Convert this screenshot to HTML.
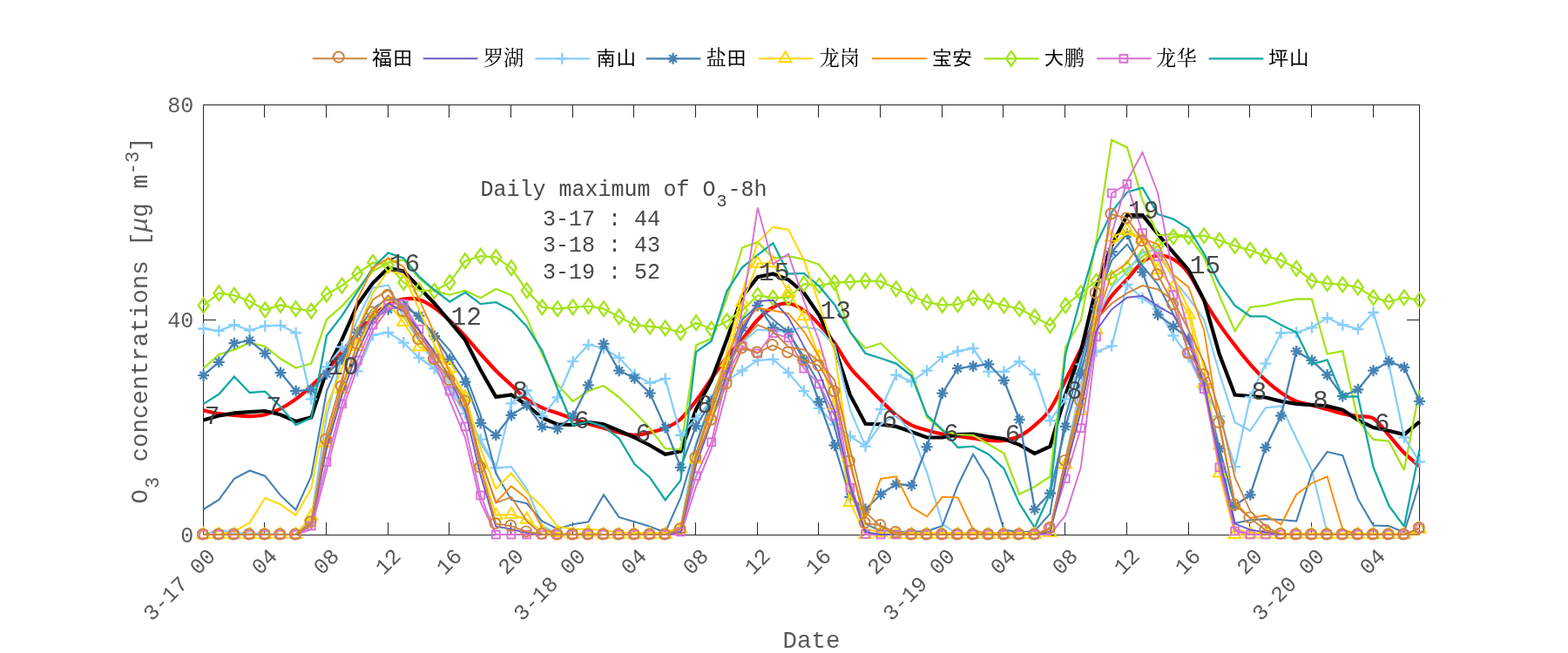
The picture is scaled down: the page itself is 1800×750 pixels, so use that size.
<!DOCTYPE html>
<html lang="zh"><head><meta charset="utf-8"><title>O3 concentrations</title>
<style>
html,body{margin:0;padding:0;background:#fff;overflow:hidden}
html{width:1800px;height:750px}
body{width:1800px;height:750px;position:relative;overflow:hidden;font-family:"Liberation Mono",monospace;color:#5a5a5a}
.t{position:absolute;white-space:pre;line-height:1}
.xt{position:absolute;white-space:pre;line-height:1;font-size:25px;transform-origin:100% 50%;transform:rotate(-45deg)}
.yt{position:absolute;white-space:pre;line-height:1;font-size:25px;text-align:right}
.an{font-size:25px;color:#484848}
.lg{position:absolute;white-space:pre;line-height:1;font-size:23.3px;font-family:"Liberation Sans","IPAGothic","Noto Sans CJK SC",sans-serif;color:#000}
.sf{font-family:"Liberation Serif","Noto Serif CJK SC",serif;font-weight:400}
sub,sup{font-size:0.8em;line-height:0}
sub{vertical-align:-0.6em;margin:0 1px}
sup{vertical-align:0.47em}
</style></head><body>
<svg width="1800" height="750" viewBox="0 0 1800 750" style="position:absolute;left:0;top:0">
<g stroke="#262626" stroke-width="1" fill="none" shape-rendering="crispEdges">
<rect x="233.5" y="120.5" width="1396" height="494"/>
<path d="M303.5 614v-14M303.5 121v14M374.5 614v-14M374.5 121v14M445.5 614v-14M445.5 121v14M515.5 614v-14M515.5 121v14M586.5 614v-14M586.5 121v14M657.5 614v-14M657.5 121v14M727.5 614v-14M727.5 121v14M798.5 614v-14M798.5 121v14M869.5 614v-14M869.5 121v14M939.5 614v-14M939.5 121v14M1010.5 614v-14M1010.5 121v14M1081.5 614v-14M1081.5 121v14M1151.5 614v-14M1151.5 121v14M1222.5 614v-14M1222.5 121v14M1293.5 614v-14M1293.5 121v14M1364.5 614v-14M1364.5 121v14M1434.5 614v-14M1434.5 121v14M1505.5 614v-14M1505.5 121v14M1576.5 614v-14M1576.5 121v14M234 367.5h14M1629 367.5h-14"/>
</g>
<g fill="none" stroke-linejoin="miter" stroke-miterlimit="3">
<path d="M233.6 471.4 C236.5 472.0 245.4 474.1 251.3 475.1 C257.2 476.0 263.1 476.4 268.9 476.9 C274.8 477.4 280.7 478.3 286.6 478.1 C292.5 478.0 298.4 477.7 304.3 476.3 C310.2 474.9 316.1 472.5 322.0 469.5 C327.8 466.5 333.7 462.7 339.6 458.4 C345.5 454.1 351.4 449.0 357.3 443.6 C363.2 438.1 369.1 432.2 375.0 425.7 C380.9 419.1 386.7 411.3 392.6 404.1 C398.5 396.8 404.4 389.2 410.3 382.4 C416.2 375.6 422.1 368.7 428.0 363.3 C433.9 357.8 439.8 353.0 445.7 349.7 C451.5 346.4 457.4 344.5 463.3 343.5 C469.2 342.6 475.1 342.5 481.0 344.2 C486.9 345.8 492.8 349.4 498.7 353.4 C504.6 357.4 510.4 362.8 516.3 368.2 C522.2 373.7 528.1 379.8 534.0 386.1 C539.9 392.5 545.8 399.9 551.7 406.5 C557.6 413.1 563.5 419.7 569.3 425.7 C575.2 431.6 581.1 436.9 587.0 442.3 C592.9 447.8 598.8 454.1 604.7 458.4 C610.6 462.7 616.5 465.6 622.4 468.3 C628.3 470.9 634.1 472.4 640.0 474.4 C645.9 476.5 651.8 478.6 657.7 480.6 C663.6 482.7 669.5 484.9 675.4 486.8 C681.3 488.6 687.2 490.1 693.0 491.7 C698.9 493.4 704.8 495.3 710.7 496.7 C716.6 498.0 722.5 499.8 728.4 499.8 C734.3 499.8 740.2 498.0 746.1 496.7 C751.9 495.3 757.8 494.3 763.7 491.7 C769.6 489.2 775.5 486.5 781.4 481.2 C787.3 476.0 793.2 468.0 799.1 460.2 C805.0 452.5 810.9 443.3 816.7 434.9 C822.6 426.6 828.5 417.7 834.4 410.2 C840.3 402.7 846.2 397.0 852.1 389.8 C858.0 382.7 863.9 373.5 869.8 367.3 C875.6 361.1 881.5 355.9 887.4 352.8 C893.3 349.7 899.2 347.9 905.1 348.5 C911.0 349.1 916.9 352.5 922.8 356.5 C928.7 360.5 934.5 366.3 940.4 372.6 C946.3 378.8 952.2 385.9 958.1 394.2 C964.0 402.4 969.9 414.1 975.8 422.0 C981.7 429.8 987.6 434.8 993.5 441.1 C999.3 447.4 1005.2 453.7 1011.1 459.6 C1017.0 465.6 1022.9 472.1 1028.8 476.9 C1034.7 481.7 1040.6 485.5 1046.5 488.3 C1052.4 491.2 1058.2 492.5 1064.1 494.2 C1070.0 495.9 1075.9 497.4 1081.8 498.5 C1087.7 499.7 1093.6 500.2 1099.5 501.0 C1105.4 501.8 1111.3 502.6 1117.1 503.5 C1123.0 504.3 1128.9 505.5 1134.8 505.9 C1140.7 506.3 1146.6 506.8 1152.5 505.9 C1158.4 505.1 1164.3 503.9 1170.2 501.0 C1176.1 498.1 1181.9 493.8 1187.8 488.6 C1193.7 483.5 1199.6 478.8 1205.5 470.1 C1211.4 461.5 1217.3 448.3 1223.2 436.8 C1229.1 425.3 1235.0 412.6 1240.8 401.0 C1246.7 389.3 1252.6 377.2 1258.5 367.0 C1264.4 356.8 1270.3 347.5 1276.2 339.8 C1282.1 332.1 1288.0 327.2 1293.9 320.7 C1299.8 314.2 1305.6 305.5 1311.5 300.9 C1317.4 296.4 1323.3 294.0 1329.2 293.5 C1335.1 293.0 1341.0 294.4 1346.9 297.8 C1352.8 301.2 1358.7 306.1 1364.5 313.9 C1370.4 321.7 1376.3 335.0 1382.2 344.8 C1388.1 354.5 1394.0 363.9 1399.9 372.6 C1405.8 381.2 1411.7 389.0 1417.6 396.6 C1423.4 404.3 1429.3 411.6 1435.2 418.3 C1441.1 424.9 1447.0 431.3 1452.9 436.8 C1458.8 442.2 1464.7 447.0 1470.6 451.0 C1476.5 455.0 1482.4 458.5 1488.2 460.9 C1494.1 463.2 1500.0 463.6 1505.9 465.2 C1511.8 466.7 1517.7 468.5 1523.6 470.1 C1529.5 471.8 1535.4 473.7 1541.3 475.1 C1547.1 476.4 1553.0 477.2 1558.9 478.1 C1564.8 479.1 1570.7 477.0 1576.6 480.6 C1582.5 484.2 1588.4 493.2 1594.3 499.8 C1600.2 506.3 1606.0 514.2 1611.9 520.1 C1617.8 526.1 1626.7 533.0 1629.6 535.6" stroke="#FF0000" stroke-width="4.2" stroke-linejoin="round"/>
<path d="M233.6 482.5 L251.3 477.5 L268.9 474.4 L286.6 473.2 L304.3 472.0 L322.0 476.3 L339.6 484.0 L357.3 479.4 L375.0 425.7 L392.6 389.8 L410.3 350.0 L428.0 325.0 L445.7 307.7 L463.3 311.4 L481.0 329.9 L498.7 348.5 L516.3 369.2 L534.0 390.5 L551.7 425.0 L569.3 455.9 L587.0 453.5 L604.7 465.2 L622.4 480.0 L640.0 487.4 L657.7 488.0 L675.4 484.9 L693.0 487.4 L710.7 494.8 L728.4 502.5 L746.1 511.5 L763.7 521.7 L781.4 518.3 L799.1 470.1 L816.7 436.8 L834.4 389.8 L852.1 340.4 L869.8 318.2 L887.4 314.5 L905.1 321.3 L922.8 336.1 L940.4 362.1 L958.1 398.5 L975.8 453.5 L993.5 486.8 L1011.1 487.4 L1028.8 489.9 L1046.5 496.1 L1064.1 502.5 L1081.8 502.5 L1099.5 499.1 L1117.1 498.5 L1134.8 501.6 L1152.5 504.1 L1170.2 510.9 L1187.8 520.8 L1205.5 512.7 L1223.2 453.5 L1240.8 403.4 L1258.5 329.9 L1276.2 281.8 L1293.9 247.2 L1311.5 247.2 L1329.2 268.8 L1346.9 289.8 L1364.5 310.2 L1382.2 344.8 L1399.9 407.1 L1417.6 453.5 L1435.2 455.0 L1452.9 456.5 L1470.6 460.9 L1488.2 463.9 L1505.9 465.2 L1523.6 466.4 L1541.3 470.7 L1558.9 482.5 L1576.6 491.1 L1594.3 494.8 L1611.9 499.1 L1629.6 484.3" stroke="#000" stroke-width="4.2"/>
<g stroke="#A4E41C" stroke-width="2.3">
<path d="M233.6 423.2 L251.3 407.1 L268.9 401.6 L286.6 393.6 L304.3 397.9 L322.0 412.1 L339.6 422.6 L357.3 417.6 L375.0 367.0 L392.6 351.6 L410.3 331.8 L428.0 311.4 L445.7 301.5 L463.3 298.5 L481.0 319.5 L498.7 334.3 L516.3 338.6 L534.0 333.7 L551.7 342.3 L569.3 331.8 L587.0 339.2 L604.7 365.1 L622.4 407.1 L640.0 441.7 L657.7 460.9 L675.4 449.1 L693.0 443.0 L710.7 456.5 L728.4 473.2 L746.1 491.7 L763.7 515.2 L781.4 516.4 L799.1 396.6 L816.7 388.6 L834.4 342.3 L852.1 284.3 L869.8 278.1 L887.4 296.6 L905.1 294.1 L922.8 297.8 L940.4 304.0 L958.1 326.9 L975.8 381.8 L993.5 400.0 L1011.1 394.2 L1028.8 411.5 L1046.5 427.5 L1064.1 479.4 L1081.8 494.8 L1099.5 499.1 L1117.1 499.8 L1134.8 510.3 L1152.5 520.8 L1170.2 567.7 L1187.8 559.0 L1205.5 547.3 L1223.2 398.5 L1240.8 368.2 L1258.5 276.8 L1276.2 160.8 L1293.9 169.4 L1311.5 229.9 L1329.2 270.1 L1346.9 268.8 L1364.5 271.3 L1382.2 295.4 L1399.9 339.8 L1417.6 380.0 L1435.2 352.8 L1452.9 350.9 L1470.6 346.6 L1488.2 343.5 L1505.9 343.5 L1523.6 406.5 L1541.3 403.4 L1558.9 483.1 L1576.6 505.0 L1594.3 506.6 L1611.9 539.9 L1629.6 447.6"/>
</g>
<g stroke="#A4E41C" stroke-width="2.3">
<path d="M233.6 350.9 L251.3 336.7 L268.9 339.2 L286.6 346.0 L304.3 355.9 L322.0 350.3 L339.6 354.7 L357.3 357.1 L375.0 338.0 L392.6 328.1 L410.3 314.5 L428.0 301.5 L445.7 304.6 L463.3 324.4 L481.0 333.7 L498.7 334.3 L516.3 324.4 L534.0 299.7 L551.7 294.1 L569.3 295.4 L587.0 307.7 L604.7 333.7 L622.4 352.8 L640.0 354.7 L657.7 352.8 L675.4 351.6 L693.0 354.7 L710.7 363.9 L728.4 373.2 L746.1 375.0 L763.7 376.9 L781.4 381.8 L799.1 370.7 L816.7 378.1 L834.4 368.9 L852.1 356.5 L869.8 339.2 L887.4 342.0 L905.1 342.0 L922.8 326.2 L940.4 328.1 L958.1 324.7 L975.8 323.8 L993.5 322.5 L1011.1 323.2 L1028.8 331.8 L1046.5 339.8 L1064.1 347.2 L1081.8 350.3 L1099.5 349.7 L1117.1 342.3 L1134.8 346.0 L1152.5 350.9 L1170.2 354.7 L1187.8 363.9 L1205.5 373.8 L1223.2 350.9 L1240.8 336.7 L1258.5 323.2 L1276.2 319.5 L1293.9 308.3 L1311.5 294.8 L1329.2 282.4 L1346.9 271.9 L1364.5 271.9 L1382.2 270.7 L1399.9 276.2 L1417.6 282.4 L1435.2 287.3 L1452.9 294.1 L1470.6 299.1 L1488.2 308.3 L1505.9 322.5 L1523.6 325.6 L1541.3 326.9 L1558.9 329.9 L1576.6 341.7 L1594.3 346.6 L1611.9 341.7 L1629.6 344.8"/>
<path d="M233.6 342.5L239.5 350.9L233.6 359.3L227.7 350.9Z"/><path d="M251.3 328.3L257.2 336.7L251.3 345.1L245.4 336.7Z"/><path d="M268.9 330.8L274.8 339.2L268.9 347.6L263.0 339.2Z"/><path d="M286.6 337.6L292.5 346.0L286.6 354.4L280.7 346.0Z"/><path d="M304.3 347.5L310.2 355.9L304.3 364.3L298.4 355.9Z"/><path d="M322.0 341.9L327.9 350.3L322.0 358.7L316.1 350.3Z"/><path d="M339.6 346.3L345.5 354.7L339.6 363.1L333.7 354.7Z"/><path d="M357.3 348.7L363.2 357.1L357.3 365.5L351.4 357.1Z"/><path d="M375.0 329.6L380.9 338.0L375.0 346.4L369.1 338.0Z"/><path d="M392.6 319.7L398.5 328.1L392.6 336.5L386.7 328.1Z"/><path d="M410.3 306.1L416.2 314.5L410.3 322.9L404.4 314.5Z"/><path d="M428.0 293.1L433.9 301.5L428.0 309.9L422.1 301.5Z"/><path d="M445.7 296.2L451.6 304.6L445.7 313.0L439.8 304.6Z"/><path d="M463.3 316.0L469.2 324.4L463.3 332.8L457.4 324.4Z"/><path d="M481.0 325.3L486.9 333.7L481.0 342.1L475.1 333.7Z"/><path d="M498.7 325.9L504.6 334.3L498.7 342.7L492.8 334.3Z"/><path d="M516.3 316.0L522.2 324.4L516.3 332.8L510.4 324.4Z"/><path d="M534.0 291.3L539.9 299.7L534.0 308.1L528.1 299.7Z"/><path d="M551.7 285.7L557.6 294.1L551.7 302.5L545.8 294.1Z"/><path d="M569.3 287.0L575.2 295.4L569.3 303.8L563.4 295.4Z"/><path d="M587.0 299.3L592.9 307.7L587.0 316.1L581.1 307.7Z"/><path d="M604.7 325.3L610.6 333.7L604.7 342.1L598.8 333.7Z"/><path d="M622.4 344.4L628.3 352.8L622.4 361.2L616.5 352.8Z"/><path d="M640.0 346.3L645.9 354.7L640.0 363.1L634.1 354.7Z"/><path d="M657.7 344.4L663.6 352.8L657.7 361.2L651.8 352.8Z"/><path d="M675.4 343.2L681.3 351.6L675.4 360.0L669.5 351.6Z"/><path d="M693.0 346.3L698.9 354.7L693.0 363.1L687.1 354.7Z"/><path d="M710.7 355.5L716.6 363.9L710.7 372.3L704.8 363.9Z"/><path d="M728.4 364.8L734.3 373.2L728.4 381.6L722.5 373.2Z"/><path d="M746.1 366.6L752.0 375.0L746.1 383.4L740.2 375.0Z"/><path d="M763.7 368.5L769.6 376.9L763.7 385.3L757.8 376.9Z"/><path d="M781.4 373.4L787.3 381.8L781.4 390.2L775.5 381.8Z"/><path d="M799.1 362.3L805.0 370.7L799.1 379.1L793.2 370.7Z"/><path d="M816.7 369.7L822.6 378.1L816.7 386.5L810.8 378.1Z"/><path d="M834.4 360.5L840.3 368.9L834.4 377.3L828.5 368.9Z"/><path d="M852.1 348.1L858.0 356.5L852.1 364.9L846.2 356.5Z"/><path d="M869.8 330.8L875.7 339.2L869.8 347.6L863.9 339.2Z"/><path d="M887.4 333.6L893.3 342.0L887.4 350.4L881.5 342.0Z"/><path d="M905.1 333.6L911.0 342.0L905.1 350.4L899.2 342.0Z"/><path d="M922.8 317.8L928.7 326.2L922.8 334.6L916.9 326.2Z"/><path d="M940.4 319.7L946.3 328.1L940.4 336.5L934.5 328.1Z"/><path d="M958.1 316.3L964.0 324.7L958.1 333.1L952.2 324.7Z"/><path d="M975.8 315.4L981.7 323.8L975.8 332.2L969.9 323.8Z"/><path d="M993.5 314.1L999.4 322.5L993.5 330.9L987.6 322.5Z"/><path d="M1011.1 314.8L1017.0 323.2L1011.1 331.6L1005.2 323.2Z"/><path d="M1028.8 323.4L1034.7 331.8L1028.8 340.2L1022.9 331.8Z"/><path d="M1046.5 331.4L1052.4 339.8L1046.5 348.2L1040.6 339.8Z"/><path d="M1064.1 338.8L1070.0 347.2L1064.1 355.6L1058.2 347.2Z"/><path d="M1081.8 341.9L1087.7 350.3L1081.8 358.7L1075.9 350.3Z"/><path d="M1099.5 341.3L1105.4 349.7L1099.5 358.1L1093.6 349.7Z"/><path d="M1117.1 333.9L1123.0 342.3L1117.1 350.7L1111.2 342.3Z"/><path d="M1134.8 337.6L1140.7 346.0L1134.8 354.4L1128.9 346.0Z"/><path d="M1152.5 342.5L1158.4 350.9L1152.5 359.3L1146.6 350.9Z"/><path d="M1170.2 346.3L1176.1 354.7L1170.2 363.1L1164.3 354.7Z"/><path d="M1187.8 355.5L1193.7 363.9L1187.8 372.3L1181.9 363.9Z"/><path d="M1205.5 365.4L1211.4 373.8L1205.5 382.2L1199.6 373.8Z"/><path d="M1223.2 342.5L1229.1 350.9L1223.2 359.3L1217.3 350.9Z"/><path d="M1240.8 328.3L1246.7 336.7L1240.8 345.1L1234.9 336.7Z"/><path d="M1258.5 314.8L1264.4 323.2L1258.5 331.6L1252.6 323.2Z"/><path d="M1276.2 311.1L1282.1 319.5L1276.2 327.9L1270.3 319.5Z"/><path d="M1293.9 299.9L1299.8 308.3L1293.9 316.7L1288.0 308.3Z"/><path d="M1311.5 286.4L1317.4 294.8L1311.5 303.2L1305.6 294.8Z"/><path d="M1329.2 274.0L1335.1 282.4L1329.2 290.8L1323.3 282.4Z"/><path d="M1346.9 263.5L1352.8 271.9L1346.9 280.3L1341.0 271.9Z"/><path d="M1364.5 263.5L1370.4 271.9L1364.5 280.3L1358.6 271.9Z"/><path d="M1382.2 262.3L1388.1 270.7L1382.2 279.1L1376.3 270.7Z"/><path d="M1399.9 267.8L1405.8 276.2L1399.9 284.6L1394.0 276.2Z"/><path d="M1417.6 274.0L1423.5 282.4L1417.6 290.8L1411.7 282.4Z"/><path d="M1435.2 278.9L1441.1 287.3L1435.2 295.7L1429.3 287.3Z"/><path d="M1452.9 285.7L1458.8 294.1L1452.9 302.5L1447.0 294.1Z"/><path d="M1470.6 290.7L1476.5 299.1L1470.6 307.5L1464.7 299.1Z"/><path d="M1488.2 299.9L1494.1 308.3L1488.2 316.7L1482.3 308.3Z"/><path d="M1505.9 314.1L1511.8 322.5L1505.9 330.9L1500.0 322.5Z"/><path d="M1523.6 317.2L1529.5 325.6L1523.6 334.0L1517.7 325.6Z"/><path d="M1541.3 318.5L1547.2 326.9L1541.3 335.3L1535.4 326.9Z"/><path d="M1558.9 321.6L1564.8 329.9L1558.9 338.3L1553.0 329.9Z"/><path d="M1576.6 333.3L1582.5 341.7L1576.6 350.1L1570.7 341.7Z"/><path d="M1594.3 338.2L1600.2 346.6L1594.3 355.0L1588.4 346.6Z"/><path d="M1611.9 333.3L1617.8 341.7L1611.9 350.1L1606.0 341.7Z"/><path d="M1629.6 336.4L1635.5 344.8L1629.6 353.2L1623.7 344.8Z"/>
</g>
<g stroke="#87CEFA" stroke-width="2.2">
<path d="M233.6 614.0 L251.3 608.4 L268.9 612.1 L286.6 612.6 L304.3 613.1 L322.0 613.5 L339.6 614.0 L357.3 595.5 L375.0 478.1 L392.6 410.2 L410.3 367.0 L428.0 330.6 L445.7 327.5 L463.3 363.9 L481.0 391.7 L498.7 416.4 L516.3 441.1 L534.0 472.0 L551.7 509.0 L569.3 537.4 L587.0 536.2 L604.7 561.5 L622.4 603.5 L640.0 614.0 L657.7 614.0 L675.4 614.0 L693.0 614.0 L710.7 614.0 L728.4 614.0 L746.1 614.0 L763.7 614.0 L781.4 604.7 L799.1 509.0 L816.7 459.6 L834.4 416.4 L852.1 392.9 L869.8 378.7 L887.4 380.0 L905.1 380.6 L922.8 375.3 L940.4 378.7 L958.1 396.6 L975.8 470.1 L993.5 512.7 L1011.1 487.4 L1028.8 476.9 L1046.5 496.7 L1064.1 542.4 L1081.8 601.6 L1099.5 614.0 L1117.1 614.0 L1134.8 614.0 L1152.5 614.0 L1170.2 614.0 L1187.8 614.0 L1205.5 614.0 L1223.2 527.5 L1240.8 441.1 L1258.5 367.0 L1276.2 329.9 L1293.9 311.4 L1311.5 289.8 L1329.2 286.7 L1346.9 320.7 L1364.5 342.3 L1382.2 367.0 L1399.9 428.8 L1417.6 484.9 L1435.2 494.8 L1452.9 468.3 L1470.6 466.4 L1488.2 503.5 L1505.9 539.9 L1523.6 612.1 L1541.3 614.0 L1558.9 614.0 L1576.6 614.0 L1594.3 614.0 L1611.9 614.0 L1629.6 614.0"/>
</g>
<g stroke="#87CEFA" stroke-width="2.3">
<path d="M233.6 377.5 L251.3 380.0 L268.9 373.2 L286.6 379.4 L304.3 374.4 L322.0 373.8 L339.6 382.4 L357.3 458.4 L375.0 421.3 L392.6 398.5 L410.3 426.3 L428.0 384.9 L445.7 381.8 L463.3 393.6 L481.0 410.8 L498.7 423.2 L516.3 447.3 L534.0 475.1 L551.7 504.7 L569.3 537.4 L587.0 463.3 L604.7 448.5 L622.4 478.1 L640.0 456.5 L657.7 415.2 L675.4 396.0 L693.0 400.0 L710.7 410.8 L728.4 430.0 L746.1 439.9 L763.7 434.9 L781.4 499.8 L799.1 480.6 L816.7 459.6 L834.4 436.8 L852.1 425.7 L869.8 413.9 L887.4 412.7 L905.1 428.1 L922.8 449.1 L940.4 468.9 L958.1 487.4 L975.8 501.0 L993.5 512.7 L1011.1 470.1 L1028.8 430.6 L1046.5 438.3 L1064.1 425.7 L1081.8 410.2 L1099.5 403.4 L1117.1 400.0 L1134.8 426.9 L1152.5 426.9 L1170.2 415.2 L1187.8 430.0 L1205.5 483.1 L1223.2 458.4 L1240.8 418.3 L1258.5 404.1 L1276.2 397.3 L1293.9 326.9 L1311.5 342.3 L1329.2 354.7 L1346.9 385.5 L1364.5 410.2 L1382.2 447.3 L1399.9 478.1 L1417.6 536.2 L1435.2 455.9 L1452.9 417.6 L1470.6 382.4 L1488.2 381.8 L1505.9 376.3 L1523.6 365.1 L1541.3 373.2 L1558.9 378.1 L1576.6 359.0 L1594.3 418.3 L1611.9 502.5 L1629.6 530.3"/>
<path d="M227.1 377.5h13M233.6 371.0v13"/><path d="M244.8 380.0h13M251.3 373.5v13"/><path d="M262.4 373.2h13M268.9 366.7v13"/><path d="M280.1 379.4h13M286.6 372.9v13"/><path d="M297.8 374.4h13M304.3 367.9v13"/><path d="M315.5 373.8h13M322.0 367.3v13"/><path d="M333.1 382.4h13M339.6 375.9v13"/><path d="M350.8 458.4h13M357.3 451.9v13"/><path d="M368.5 421.3h13M375.0 414.8v13"/><path d="M386.1 398.5h13M392.6 392.0v13"/><path d="M403.8 426.3h13M410.3 419.8v13"/><path d="M421.5 384.9h13M428.0 378.4v13"/><path d="M439.2 381.8h13M445.7 375.3v13"/><path d="M456.8 393.6h13M463.3 387.1v13"/><path d="M474.5 410.8h13M481.0 404.3v13"/><path d="M492.2 423.2h13M498.7 416.7v13"/><path d="M509.8 447.3h13M516.3 440.8v13"/><path d="M527.5 475.1h13M534.0 468.6v13"/><path d="M545.2 504.7h13M551.7 498.2v13"/><path d="M562.8 537.4h13M569.3 530.9v13"/><path d="M580.5 463.3h13M587.0 456.8v13"/><path d="M598.2 448.5h13M604.7 442.0v13"/><path d="M615.9 478.1h13M622.4 471.6v13"/><path d="M633.5 456.5h13M640.0 450.0v13"/><path d="M651.2 415.2h13M657.7 408.7v13"/><path d="M668.9 396.0h13M675.4 389.5v13"/><path d="M686.5 400.0h13M693.0 393.5v13"/><path d="M704.2 410.8h13M710.7 404.3v13"/><path d="M721.9 430.0h13M728.4 423.5v13"/><path d="M739.6 439.9h13M746.1 433.4v13"/><path d="M757.2 434.9h13M763.7 428.4v13"/><path d="M774.9 499.8h13M781.4 493.3v13"/><path d="M792.6 480.6h13M799.1 474.1v13"/><path d="M810.2 459.6h13M816.7 453.1v13"/><path d="M827.9 436.8h13M834.4 430.3v13"/><path d="M845.6 425.7h13M852.1 419.2v13"/><path d="M863.3 413.9h13M869.8 407.4v13"/><path d="M880.9 412.7h13M887.4 406.2v13"/><path d="M898.6 428.1h13M905.1 421.6v13"/><path d="M916.3 449.1h13M922.8 442.6v13"/><path d="M933.9 468.9h13M940.4 462.4v13"/><path d="M951.6 487.4h13M958.1 480.9v13"/><path d="M969.3 501.0h13M975.8 494.5v13"/><path d="M987.0 512.7h13M993.5 506.2v13"/><path d="M1004.6 470.1h13M1011.1 463.6v13"/><path d="M1022.3 430.6h13M1028.8 424.1v13"/><path d="M1040.0 438.3h13M1046.5 431.8v13"/><path d="M1057.6 425.7h13M1064.1 419.2v13"/><path d="M1075.3 410.2h13M1081.8 403.7v13"/><path d="M1093.0 403.4h13M1099.5 396.9v13"/><path d="M1110.6 400.0h13M1117.1 393.5v13"/><path d="M1128.3 426.9h13M1134.8 420.4v13"/><path d="M1146.0 426.9h13M1152.5 420.4v13"/><path d="M1163.7 415.2h13M1170.2 408.7v13"/><path d="M1181.3 430.0h13M1187.8 423.5v13"/><path d="M1199.0 483.1h13M1205.5 476.6v13"/><path d="M1216.7 458.4h13M1223.2 451.9v13"/><path d="M1234.3 418.3h13M1240.8 411.8v13"/><path d="M1252.0 404.1h13M1258.5 397.6v13"/><path d="M1269.7 397.3h13M1276.2 390.8v13"/><path d="M1287.4 326.9h13M1293.9 320.4v13"/><path d="M1305.0 342.3h13M1311.5 335.8v13"/><path d="M1322.7 354.7h13M1329.2 348.2v13"/><path d="M1340.4 385.5h13M1346.9 379.0v13"/><path d="M1358.0 410.2h13M1364.5 403.7v13"/><path d="M1375.7 447.3h13M1382.2 440.8v13"/><path d="M1393.4 478.1h13M1399.9 471.6v13"/><path d="M1411.1 536.2h13M1417.6 529.7v13"/><path d="M1428.7 455.9h13M1435.2 449.4v13"/><path d="M1446.4 417.6h13M1452.9 411.1v13"/><path d="M1464.1 382.4h13M1470.6 375.9v13"/><path d="M1481.7 381.8h13M1488.2 375.3v13"/><path d="M1499.4 376.3h13M1505.9 369.8v13"/><path d="M1517.1 365.1h13M1523.6 358.6v13"/><path d="M1534.8 373.2h13M1541.3 366.7v13"/><path d="M1552.4 378.1h13M1558.9 371.6v13"/><path d="M1570.1 359.0h13M1576.6 352.5v13"/><path d="M1587.8 418.3h13M1594.3 411.8v13"/><path d="M1605.4 502.5h13M1611.9 496.0v13"/><path d="M1623.1 530.3h13M1629.6 523.8v13"/>
</g>
<g stroke="#4682B4" stroke-width="2.1">
<path d="M233.6 585.0 L251.3 573.9 L268.9 549.8 L286.6 540.5 L304.3 546.7 L322.0 568.9 L339.6 585.6 L357.3 546.7 L375.0 449.1 L392.6 408.4 L410.3 379.4 L428.0 354.7 L445.7 342.3 L463.3 345.4 L481.0 367.0 L498.7 382.4 L516.3 402.5 L534.0 429.4 L551.7 476.9 L569.3 543.6 L587.0 574.2 L604.7 578.2 L622.4 598.6 L640.0 607.5 L657.7 602.3 L675.4 599.2 L693.0 568.3 L710.7 594.2 L728.4 599.2 L746.1 604.7 L763.7 611.5 L781.4 571.4 L799.1 511.5 L816.7 459.6 L834.4 410.2 L852.1 367.0 L869.8 350.9 L887.4 367.0 L905.1 381.8 L922.8 410.2 L940.4 441.1 L958.1 490.5 L975.8 558.4 L993.5 601.6 L1011.1 610.0 L1028.8 610.9 L1046.5 610.9 L1064.1 610.0 L1081.8 604.1 L1099.5 557.5 L1117.1 521.7 L1134.8 551.0 L1152.5 608.4 L1170.2 611.5 L1187.8 610.0 L1205.5 589.9 L1223.2 478.1 L1240.8 416.4 L1258.5 348.5 L1276.2 299.1 L1293.9 280.6 L1311.5 305.2 L1329.2 326.9 L1346.9 360.8 L1364.5 391.7 L1382.2 447.3 L1399.9 521.4 L1417.6 601.0 L1435.2 597.3 L1452.9 596.1 L1470.6 597.0 L1488.2 598.6 L1505.9 543.6 L1523.6 518.9 L1541.3 523.2 L1558.9 573.2 L1576.6 603.5 L1594.3 604.1 L1611.9 611.5 L1629.6 554.1"/>
</g>
<g stroke="#4682B4" stroke-width="2.3">
<path d="M233.6 431.2 L251.3 415.8 L268.9 394.2 L286.6 391.1 L304.3 405.9 L322.0 428.1 L339.6 449.1 L357.3 447.3 L375.0 429.4 L392.6 412.7 L410.3 381.8 L428.0 367.0 L445.7 355.3 L463.3 351.6 L481.0 362.7 L498.7 386.1 L516.3 412.7 L534.0 438.6 L551.7 485.9 L569.3 499.8 L587.0 476.9 L604.7 465.2 L622.4 489.9 L640.0 492.4 L657.7 478.1 L675.4 442.3 L693.0 394.8 L710.7 425.7 L728.4 434.3 L746.1 451.6 L763.7 491.1 L781.4 536.8 L799.1 489.3 L816.7 460.9 L834.4 422.6 L852.1 376.3 L869.8 350.9 L887.4 376.3 L905.1 381.2 L922.8 413.9 L940.4 461.5 L958.1 511.5 L975.8 570.8 L993.5 585.0 L1011.1 567.7 L1028.8 556.0 L1046.5 557.5 L1064.1 513.3 L1081.8 451.6 L1099.5 423.2 L1117.1 420.7 L1134.8 418.3 L1152.5 436.8 L1170.2 481.9 L1187.8 585.0 L1205.5 566.5 L1223.2 489.9 L1240.8 428.8 L1258.5 354.7 L1276.2 289.2 L1293.9 268.8 L1311.5 312.7 L1329.2 361.4 L1346.9 375.0 L1364.5 389.2 L1382.2 441.1 L1399.9 515.2 L1417.6 580.7 L1435.2 568.3 L1452.9 514.0 L1470.6 477.5 L1488.2 403.4 L1505.9 413.9 L1523.6 430.6 L1541.3 455.0 L1558.9 447.3 L1576.6 425.7 L1594.3 415.2 L1611.9 422.0 L1629.6 460.9"/>
<path d="M227.1 431.2h13.0M233.6 424.7v13.0M229.3 426.9l8.6 8.6M229.3 435.5l8.6 -8.6"/><path d="M244.8 415.8h13.0M251.3 409.3v13.0M247.0 411.5l8.6 8.6M247.0 420.1l8.6 -8.6"/><path d="M262.4 394.2h13.0M268.9 387.7v13.0M264.6 389.9l8.6 8.6M264.6 398.5l8.6 -8.6"/><path d="M280.1 391.1h13.0M286.6 384.6v13.0M282.3 386.8l8.6 8.6M282.3 395.4l8.6 -8.6"/><path d="M297.8 405.9h13.0M304.3 399.4v13.0M300.0 401.6l8.6 8.6M300.0 410.2l8.6 -8.6"/><path d="M315.5 428.1h13.0M322.0 421.6v13.0M317.7 423.8l8.6 8.6M317.7 432.4l8.6 -8.6"/><path d="M333.1 449.1h13.0M339.6 442.6v13.0M335.3 444.8l8.6 8.6M335.3 453.4l8.6 -8.6"/><path d="M350.8 447.3h13.0M357.3 440.8v13.0M353.0 443.0l8.6 8.6M353.0 451.6l8.6 -8.6"/><path d="M368.5 429.4h13.0M375.0 422.9v13.0M370.7 425.1l8.6 8.6M370.7 433.7l8.6 -8.6"/><path d="M386.1 412.7h13.0M392.6 406.2v13.0M388.3 408.4l8.6 8.6M388.3 417.0l8.6 -8.6"/><path d="M403.8 381.8h13.0M410.3 375.3v13.0M406.0 377.5l8.6 8.6M406.0 386.1l8.6 -8.6"/><path d="M421.5 367.0h13.0M428.0 360.5v13.0M423.7 362.7l8.6 8.6M423.7 371.3l8.6 -8.6"/><path d="M439.2 355.3h13.0M445.7 348.8v13.0M441.4 351.0l8.6 8.6M441.4 359.6l8.6 -8.6"/><path d="M456.8 351.6h13.0M463.3 345.1v13.0M459.0 347.3l8.6 8.6M459.0 355.9l8.6 -8.6"/><path d="M474.5 362.7h13.0M481.0 356.2v13.0M476.7 358.4l8.6 8.6M476.7 367.0l8.6 -8.6"/><path d="M492.2 386.1h13.0M498.7 379.6v13.0M494.4 381.8l8.6 8.6M494.4 390.4l8.6 -8.6"/><path d="M509.8 412.7h13.0M516.3 406.2v13.0M512.0 408.4l8.6 8.6M512.0 417.0l8.6 -8.6"/><path d="M527.5 438.6h13.0M534.0 432.1v13.0M529.7 434.3l8.6 8.6M529.7 442.9l8.6 -8.6"/><path d="M545.2 485.9h13.0M551.7 479.4v13.0M547.4 481.6l8.6 8.6M547.4 490.2l8.6 -8.6"/><path d="M562.8 499.8h13.0M569.3 493.3v13.0M565.0 495.5l8.6 8.6M565.0 504.1l8.6 -8.6"/><path d="M580.5 476.9h13.0M587.0 470.4v13.0M582.7 472.6l8.6 8.6M582.7 481.2l8.6 -8.6"/><path d="M598.2 465.2h13.0M604.7 458.7v13.0M600.4 460.9l8.6 8.6M600.4 469.5l8.6 -8.6"/><path d="M615.9 489.9h13.0M622.4 483.4v13.0M618.1 485.6l8.6 8.6M618.1 494.2l8.6 -8.6"/><path d="M633.5 492.4h13.0M640.0 485.9v13.0M635.7 488.1l8.6 8.6M635.7 496.7l8.6 -8.6"/><path d="M651.2 478.1h13.0M657.7 471.6v13.0M653.4 473.8l8.6 8.6M653.4 482.4l8.6 -8.6"/><path d="M668.9 442.3h13.0M675.4 435.8v13.0M671.1 438.0l8.6 8.6M671.1 446.6l8.6 -8.6"/><path d="M686.5 394.8h13.0M693.0 388.3v13.0M688.7 390.5l8.6 8.6M688.7 399.1l8.6 -8.6"/><path d="M704.2 425.7h13.0M710.7 419.2v13.0M706.4 421.4l8.6 8.6M706.4 430.0l8.6 -8.6"/><path d="M721.9 434.3h13.0M728.4 427.8v13.0M724.1 430.0l8.6 8.6M724.1 438.6l8.6 -8.6"/><path d="M739.6 451.6h13.0M746.1 445.1v13.0M741.8 447.3l8.6 8.6M741.8 455.9l8.6 -8.6"/><path d="M757.2 491.1h13.0M763.7 484.6v13.0M759.4 486.8l8.6 8.6M759.4 495.4l8.6 -8.6"/><path d="M774.9 536.8h13.0M781.4 530.3v13.0M777.1 532.5l8.6 8.6M777.1 541.1l8.6 -8.6"/><path d="M792.6 489.3h13.0M799.1 482.8v13.0M794.8 485.0l8.6 8.6M794.8 493.6l8.6 -8.6"/><path d="M810.2 460.9h13.0M816.7 454.4v13.0M812.4 456.6l8.6 8.6M812.4 465.2l8.6 -8.6"/><path d="M827.9 422.6h13.0M834.4 416.1v13.0M830.1 418.3l8.6 8.6M830.1 426.9l8.6 -8.6"/><path d="M845.6 376.3h13.0M852.1 369.8v13.0M847.8 372.0l8.6 8.6M847.8 380.6l8.6 -8.6"/><path d="M863.3 350.9h13.0M869.8 344.4v13.0M865.5 346.6l8.6 8.6M865.5 355.2l8.6 -8.6"/><path d="M880.9 376.3h13.0M887.4 369.8v13.0M883.1 372.0l8.6 8.6M883.1 380.6l8.6 -8.6"/><path d="M898.6 381.2h13.0M905.1 374.7v13.0M900.8 376.9l8.6 8.6M900.8 385.5l8.6 -8.6"/><path d="M916.3 413.9h13.0M922.8 407.4v13.0M918.5 409.6l8.6 8.6M918.5 418.2l8.6 -8.6"/><path d="M933.9 461.5h13.0M940.4 455.0v13.0M936.1 457.2l8.6 8.6M936.1 465.8l8.6 -8.6"/><path d="M951.6 511.5h13.0M958.1 505.0v13.0M953.8 507.2l8.6 8.6M953.8 515.8l8.6 -8.6"/><path d="M969.3 570.8h13.0M975.8 564.3v13.0M971.5 566.5l8.6 8.6M971.5 575.1l8.6 -8.6"/><path d="M987.0 585.0h13.0M993.5 578.5v13.0M989.2 580.7l8.6 8.6M989.2 589.3l8.6 -8.6"/><path d="M1004.6 567.7h13.0M1011.1 561.2v13.0M1006.8 563.4l8.6 8.6M1006.8 572.0l8.6 -8.6"/><path d="M1022.3 556.0h13.0M1028.8 549.5v13.0M1024.5 551.7l8.6 8.6M1024.5 560.3l8.6 -8.6"/><path d="M1040.0 557.5h13.0M1046.5 551.0v13.0M1042.2 553.2l8.6 8.6M1042.2 561.8l8.6 -8.6"/><path d="M1057.6 513.3h13.0M1064.1 506.8v13.0M1059.8 509.0l8.6 8.6M1059.8 517.6l8.6 -8.6"/><path d="M1075.3 451.6h13.0M1081.8 445.1v13.0M1077.5 447.3l8.6 8.6M1077.5 455.9l8.6 -8.6"/><path d="M1093.0 423.2h13.0M1099.5 416.7v13.0M1095.2 418.9l8.6 8.6M1095.2 427.5l8.6 -8.6"/><path d="M1110.6 420.7h13.0M1117.1 414.2v13.0M1112.8 416.4l8.6 8.6M1112.8 425.0l8.6 -8.6"/><path d="M1128.3 418.3h13.0M1134.8 411.8v13.0M1130.5 414.0l8.6 8.6M1130.5 422.6l8.6 -8.6"/><path d="M1146.0 436.8h13.0M1152.5 430.3v13.0M1148.2 432.5l8.6 8.6M1148.2 441.1l8.6 -8.6"/><path d="M1163.7 481.9h13.0M1170.2 475.4v13.0M1165.9 477.6l8.6 8.6M1165.9 486.2l8.6 -8.6"/><path d="M1181.3 585.0h13.0M1187.8 578.5v13.0M1183.5 580.7l8.6 8.6M1183.5 589.3l8.6 -8.6"/><path d="M1199.0 566.5h13.0M1205.5 560.0v13.0M1201.2 562.2l8.6 8.6M1201.2 570.8l8.6 -8.6"/><path d="M1216.7 489.9h13.0M1223.2 483.4v13.0M1218.9 485.6l8.6 8.6M1218.9 494.2l8.6 -8.6"/><path d="M1234.3 428.8h13.0M1240.8 422.2v13.0M1236.5 424.4l8.6 8.6M1236.5 433.1l8.6 -8.6"/><path d="M1252.0 354.7h13.0M1258.5 348.2v13.0M1254.2 350.4l8.6 8.6M1254.2 359.0l8.6 -8.6"/><path d="M1269.7 289.2h13.0M1276.2 282.7v13.0M1271.9 284.9l8.6 8.6M1271.9 293.5l8.6 -8.6"/><path d="M1287.4 268.8h13.0M1293.9 262.3v13.0M1289.6 264.5l8.6 8.6M1289.6 273.1l8.6 -8.6"/><path d="M1305.0 312.7h13.0M1311.5 306.2v13.0M1307.2 308.4l8.6 8.6M1307.2 317.0l8.6 -8.6"/><path d="M1322.7 361.4h13.0M1329.2 354.9v13.0M1324.9 357.1l8.6 8.6M1324.9 365.7l8.6 -8.6"/><path d="M1340.4 375.0h13.0M1346.9 368.5v13.0M1342.6 370.7l8.6 8.6M1342.6 379.3l8.6 -8.6"/><path d="M1358.0 389.2h13.0M1364.5 382.7v13.0M1360.2 384.9l8.6 8.6M1360.2 393.5l8.6 -8.6"/><path d="M1375.7 441.1h13.0M1382.2 434.6v13.0M1377.9 436.8l8.6 8.6M1377.9 445.4l8.6 -8.6"/><path d="M1393.4 515.2h13.0M1399.9 508.7v13.0M1395.6 510.9l8.6 8.6M1395.6 519.5l8.6 -8.6"/><path d="M1411.1 580.7h13.0M1417.6 574.2v13.0M1413.3 576.4l8.6 8.6M1413.3 585.0l8.6 -8.6"/><path d="M1428.7 568.3h13.0M1435.2 561.8v13.0M1430.9 564.0l8.6 8.6M1430.9 572.6l8.6 -8.6"/><path d="M1446.4 514.0h13.0M1452.9 507.5v13.0M1448.6 509.7l8.6 8.6M1448.6 518.3l8.6 -8.6"/><path d="M1464.1 477.5h13.0M1470.6 471.0v13.0M1466.3 473.2l8.6 8.6M1466.3 481.8l8.6 -8.6"/><path d="M1481.7 403.4h13.0M1488.2 396.9v13.0M1483.9 399.1l8.6 8.6M1483.9 407.7l8.6 -8.6"/><path d="M1499.4 413.9h13.0M1505.9 407.4v13.0M1501.6 409.6l8.6 8.6M1501.6 418.2l8.6 -8.6"/><path d="M1517.1 430.6h13.0M1523.6 424.1v13.0M1519.3 426.3l8.6 8.6M1519.3 434.9l8.6 -8.6"/><path d="M1534.8 455.0h13.0M1541.3 448.5v13.0M1537.0 450.7l8.6 8.6M1537.0 459.3l8.6 -8.6"/><path d="M1552.4 447.3h13.0M1558.9 440.8v13.0M1554.6 443.0l8.6 8.6M1554.6 451.6l8.6 -8.6"/><path d="M1570.1 425.7h13.0M1576.6 419.2v13.0M1572.3 421.4l8.6 8.6M1572.3 430.0l8.6 -8.6"/><path d="M1587.8 415.2h13.0M1594.3 408.7v13.0M1590.0 410.9l8.6 8.6M1590.0 419.5l8.6 -8.6"/><path d="M1605.4 422.0h13.0M1611.9 415.5v13.0M1607.6 417.7l8.6 8.6M1607.6 426.3l8.6 -8.6"/><path d="M1623.1 460.9h13.0M1629.6 454.4v13.0M1625.3 456.6l8.6 8.6M1625.3 465.2l8.6 -8.6"/>
</g>
<g stroke="#14A8A2" stroke-width="2.3">
<path d="M233.6 463.9 L251.3 452.8 L268.9 432.5 L286.6 451.0 L304.3 449.7 L322.0 467.0 L339.6 488.0 L357.3 480.0 L375.0 385.5 L392.6 362.7 L410.3 334.9 L428.0 307.7 L445.7 290.4 L463.3 296.6 L481.0 317.6 L498.7 333.0 L516.3 346.6 L534.0 335.8 L551.7 349.1 L569.3 347.2 L587.0 356.5 L604.7 375.0 L622.4 402.8 L640.0 446.7 L657.7 488.3 L675.4 484.3 L693.0 489.9 L710.7 503.5 L728.4 533.1 L746.1 548.5 L763.7 574.2 L781.4 551.6 L799.1 404.1 L816.7 391.7 L834.4 334.3 L852.1 307.1 L869.8 292.9 L887.4 279.3 L905.1 314.5 L922.8 313.9 L940.4 328.7 L958.1 350.0 L975.8 380.6 L993.5 405.9 L1011.1 411.5 L1028.8 417.6 L1046.5 431.8 L1064.1 476.9 L1081.8 493.6 L1099.5 514.0 L1117.1 512.7 L1134.8 521.7 L1152.5 538.4 L1170.2 578.2 L1187.8 606.0 L1205.5 566.5 L1223.2 406.5 L1240.8 341.7 L1258.5 280.6 L1276.2 243.5 L1293.9 220.7 L1311.5 215.7 L1329.2 246.0 L1346.9 251.5 L1364.5 262.6 L1382.2 291.4 L1399.9 326.2 L1417.6 350.9 L1435.2 363.3 L1452.9 363.3 L1470.6 373.2 L1488.2 381.8 L1505.9 418.3 L1523.6 413.3 L1541.3 455.9 L1558.9 455.3 L1576.6 536.8 L1594.3 580.7 L1611.9 604.7 L1629.6 516.4"/>
</g>
<g stroke="#FFD700" stroke-width="2.0">
<path d="M233.6 614.0 L251.3 614.0 L268.9 610.3 L286.6 600.4 L304.3 572.0 L322.0 579.4 L339.6 591.8 L357.3 560.9 L375.0 466.4 L392.6 422.6 L410.3 379.4 L428.0 336.7 L445.7 310.8 L463.3 315.7 L481.0 355.3 L498.7 396.6 L516.3 425.7 L534.0 453.5 L551.7 515.2 L569.3 561.5 L587.0 543.6 L604.7 565.2 L622.4 581.9 L640.0 604.7 L657.7 607.8 L675.4 607.8 L693.0 609.1 L710.7 611.5 L728.4 612.1 L746.1 612.1 L763.7 612.1 L781.4 604.7 L799.1 521.4 L816.7 465.8 L834.4 404.1 L852.1 336.1 L869.8 278.1 L887.4 260.8 L905.1 263.9 L922.8 298.5 L940.4 349.7 L958.1 404.1 L975.8 527.5 L993.5 607.8 L1011.1 610.9 L1028.8 612.1 L1046.5 612.1 L1064.1 612.1 L1081.8 612.1 L1099.5 612.1 L1117.1 612.1 L1134.8 612.1 L1152.5 612.1 L1170.2 612.1 L1187.8 612.1 L1205.5 610.9 L1223.2 539.9 L1240.8 465.8 L1258.5 354.7 L1276.2 280.6 L1293.9 268.2 L1311.5 274.4 L1329.2 292.9 L1346.9 317.6 L1364.5 354.7 L1382.2 422.6 L1399.9 533.7 L1417.6 607.8 L1435.2 612.1 L1452.9 612.8 L1470.6 612.8 L1488.2 612.8 L1505.9 612.8 L1523.6 612.8 L1541.3 612.8 L1558.9 612.8 L1576.6 612.8 L1594.3 612.8 L1611.9 612.8 L1629.6 610.9"/>
</g>
<g stroke="#FFD700" stroke-width="2.0">
<path d="M233.6 614.0 L251.3 614.0 L268.9 614.0 L286.6 614.0 L304.3 614.0 L322.0 614.0 L339.6 614.0 L357.3 593.0 L375.0 509.0 L392.6 447.3 L410.3 397.9 L428.0 363.9 L445.7 348.5 L463.3 370.1 L481.0 398.5 L498.7 407.1 L516.3 423.2 L534.0 456.5 L551.7 533.7 L569.3 591.8 L587.0 590.8 L604.7 596.7 L622.4 610.3 L640.0 612.1 L657.7 614.0 L675.4 611.5 L693.0 614.0 L710.7 614.0 L728.4 614.0 L746.1 614.0 L763.7 614.0 L781.4 607.8 L799.1 527.5 L816.7 478.1 L834.4 416.4 L852.1 347.2 L869.8 302.8 L887.4 302.2 L905.1 336.1 L922.8 363.3 L940.4 410.2 L958.1 465.8 L975.8 577.0 L993.5 614.0 L1011.1 612.1 L1028.8 614.0 L1046.5 614.0 L1064.1 614.0 L1081.8 614.0 L1099.5 614.0 L1117.1 614.0 L1134.8 614.0 L1152.5 614.0 L1170.2 614.0 L1187.8 614.0 L1205.5 612.1 L1223.2 533.7 L1240.8 472.0 L1258.5 378.7 L1276.2 272.5 L1293.9 264.5 L1311.5 274.4 L1329.2 310.2 L1346.9 329.9 L1364.5 361.4 L1382.2 441.1 L1399.9 543.6 L1417.6 614.0 L1435.2 613.4 L1452.9 613.7 L1470.6 614.0 L1488.2 614.0 L1505.9 614.0 L1523.6 614.0 L1541.3 614.0 L1558.9 614.0 L1576.6 614.0 L1594.3 614.0 L1611.9 614.0 L1629.6 607.8"/>
<path d="M233.6 605.9L240.6 618.0L226.6 618.0Z"/><path d="M251.3 605.9L258.3 618.0L244.3 618.0Z"/><path d="M268.9 605.9L275.9 618.0L261.9 618.0Z"/><path d="M286.6 605.9L293.6 618.0L279.6 618.0Z"/><path d="M304.3 605.9L311.3 618.0L297.3 618.0Z"/><path d="M322.0 605.9L329.0 618.0L315.0 618.0Z"/><path d="M339.6 605.9L346.6 618.0L332.6 618.0Z"/><path d="M357.3 584.9L364.3 597.0L350.3 597.0Z"/><path d="M375.0 500.9L382.0 513.0L368.0 513.0Z"/><path d="M392.6 439.2L399.6 451.3L385.6 451.3Z"/><path d="M410.3 389.8L417.3 401.9L403.3 401.9Z"/><path d="M428.0 355.8L435.0 367.9L421.0 367.9Z"/><path d="M445.7 340.4L452.7 352.5L438.7 352.5Z"/><path d="M463.3 362.0L470.3 374.1L456.3 374.1Z"/><path d="M481.0 390.4L488.0 402.5L474.0 402.5Z"/><path d="M498.7 399.0L505.7 411.1L491.7 411.1Z"/><path d="M516.3 415.1L523.3 427.2L509.3 427.2Z"/><path d="M534.0 448.4L541.0 460.5L527.0 460.5Z"/><path d="M551.7 525.6L558.7 537.7L544.7 537.7Z"/><path d="M569.3 583.7L576.3 595.8L562.3 595.8Z"/><path d="M587.0 582.7L594.0 594.8L580.0 594.8Z"/><path d="M604.7 588.6L611.7 600.7L597.7 600.7Z"/><path d="M622.4 602.2L629.4 614.3L615.4 614.3Z"/><path d="M640.0 604.0L647.0 616.1L633.0 616.1Z"/><path d="M657.7 605.9L664.7 618.0L650.7 618.0Z"/><path d="M675.4 603.4L682.4 615.5L668.4 615.5Z"/><path d="M693.0 605.9L700.0 618.0L686.0 618.0Z"/><path d="M710.7 605.9L717.7 618.0L703.7 618.0Z"/><path d="M728.4 605.9L735.4 618.0L721.4 618.0Z"/><path d="M746.1 605.9L753.1 618.0L739.1 618.0Z"/><path d="M763.7 605.9L770.7 618.0L756.7 618.0Z"/><path d="M781.4 599.7L788.4 611.8L774.4 611.8Z"/><path d="M799.1 519.4L806.1 531.5L792.1 531.5Z"/><path d="M816.7 470.0L823.7 482.1L809.7 482.1Z"/><path d="M834.4 408.3L841.4 420.4L827.4 420.4Z"/><path d="M852.1 339.1L859.1 351.2L845.1 351.2Z"/><path d="M869.8 294.7L876.8 306.8L862.8 306.8Z"/><path d="M887.4 294.1L894.4 306.2L880.4 306.2Z"/><path d="M905.1 328.0L912.1 340.1L898.1 340.1Z"/><path d="M922.8 355.2L929.8 367.3L915.8 367.3Z"/><path d="M940.4 402.1L947.4 414.2L933.4 414.2Z"/><path d="M958.1 457.7L965.1 469.8L951.1 469.8Z"/><path d="M975.8 568.9L982.8 581.0L968.8 581.0Z"/><path d="M993.5 605.9L1000.5 618.0L986.5 618.0Z"/><path d="M1011.1 604.0L1018.1 616.1L1004.1 616.1Z"/><path d="M1028.8 605.9L1035.8 618.0L1021.8 618.0Z"/><path d="M1046.5 605.9L1053.5 618.0L1039.5 618.0Z"/><path d="M1064.1 605.9L1071.1 618.0L1057.1 618.0Z"/><path d="M1081.8 605.9L1088.8 618.0L1074.8 618.0Z"/><path d="M1099.5 605.9L1106.5 618.0L1092.5 618.0Z"/><path d="M1117.1 605.9L1124.1 618.0L1110.1 618.0Z"/><path d="M1134.8 605.9L1141.8 618.0L1127.8 618.0Z"/><path d="M1152.5 605.9L1159.5 618.0L1145.5 618.0Z"/><path d="M1170.2 605.9L1177.2 618.0L1163.2 618.0Z"/><path d="M1187.8 605.9L1194.8 618.0L1180.8 618.0Z"/><path d="M1205.5 604.0L1212.5 616.1L1198.5 616.1Z"/><path d="M1223.2 525.6L1230.2 537.7L1216.2 537.7Z"/><path d="M1240.8 463.9L1247.8 476.0L1233.8 476.0Z"/><path d="M1258.5 370.6L1265.5 382.7L1251.5 382.7Z"/><path d="M1276.2 264.4L1283.2 276.5L1269.2 276.5Z"/><path d="M1293.9 256.4L1300.9 268.5L1286.9 268.5Z"/><path d="M1311.5 266.3L1318.5 278.4L1304.5 278.4Z"/><path d="M1329.2 302.1L1336.2 314.2L1322.2 314.2Z"/><path d="M1346.9 321.8L1353.9 333.9L1339.9 333.9Z"/><path d="M1364.5 353.3L1371.5 365.4L1357.5 365.4Z"/><path d="M1382.2 433.0L1389.2 445.1L1375.2 445.1Z"/><path d="M1399.9 535.5L1406.9 547.6L1392.9 547.6Z"/><path d="M1417.6 605.9L1424.6 618.0L1410.6 618.0Z"/><path d="M1435.2 605.3L1442.2 617.4L1428.2 617.4Z"/><path d="M1452.9 605.6L1459.9 617.7L1445.9 617.7Z"/><path d="M1470.6 605.9L1477.6 618.0L1463.6 618.0Z"/><path d="M1488.2 605.9L1495.2 618.0L1481.2 618.0Z"/><path d="M1505.9 605.9L1512.9 618.0L1498.9 618.0Z"/><path d="M1523.6 605.9L1530.6 618.0L1516.6 618.0Z"/><path d="M1541.3 605.9L1548.3 618.0L1534.3 618.0Z"/><path d="M1558.9 605.9L1565.9 618.0L1551.9 618.0Z"/><path d="M1576.6 605.9L1583.6 618.0L1569.6 618.0Z"/><path d="M1594.3 605.9L1601.3 618.0L1587.3 618.0Z"/><path d="M1611.9 605.9L1618.9 618.0L1604.9 618.0Z"/><path d="M1629.6 599.7L1636.6 611.8L1622.6 611.8Z"/>
</g>
<g stroke="#FF8C00" stroke-width="1.9">
<path d="M233.6 614.0 L251.3 614.0 L268.9 614.0 L286.6 614.0 L304.3 614.0 L322.0 614.0 L339.6 614.0 L357.3 607.8 L375.0 509.0 L392.6 441.1 L410.3 343.5 L428.0 307.7 L445.7 296.6 L463.3 306.5 L481.0 343.5 L498.7 383.1 L516.3 428.8 L534.0 465.8 L551.7 527.5 L569.3 577.0 L587.0 558.4 L604.7 572.6 L622.4 606.6 L640.0 614.0 L657.7 614.0 L675.4 614.0 L693.0 614.0 L710.7 614.0 L728.4 614.0 L746.1 614.0 L763.7 614.0 L781.4 607.8 L799.1 521.4 L816.7 465.8 L834.4 410.2 L852.1 371.3 L869.8 354.0 L887.4 356.5 L905.1 360.2 L922.8 380.6 L940.4 410.2 L958.1 447.3 L975.8 533.7 L993.5 595.5 L1011.1 549.8 L1028.8 547.3 L1046.5 582.5 L1064.1 593.3 L1081.8 570.8 L1099.5 571.4 L1117.1 608.4 L1134.8 614.0 L1152.5 614.0 L1170.2 614.0 L1187.8 614.0 L1205.5 610.9 L1223.2 533.7 L1240.8 459.6 L1258.5 367.0 L1276.2 314.5 L1293.9 302.2 L1311.5 273.8 L1329.2 280.6 L1346.9 315.7 L1364.5 329.9 L1382.2 379.4 L1399.9 490.5 L1417.6 577.0 L1435.2 594.9 L1452.9 591.8 L1470.6 602.3 L1488.2 567.7 L1505.9 555.0 L1523.6 547.3 L1541.3 608.4 L1558.9 614.0 L1576.6 614.0 L1594.3 614.0 L1611.9 614.0 L1629.6 614.0"/>
</g>
<g stroke="#DA70D6" stroke-width="1.9">
<path d="M233.6 614.0 L251.3 614.0 L268.9 614.0 L286.6 614.0 L304.3 614.0 L322.0 614.0 L339.6 614.0 L357.3 607.8 L375.0 539.9 L392.6 472.0 L410.3 422.6 L428.0 379.4 L445.7 354.7 L463.3 351.6 L481.0 379.4 L498.7 416.4 L516.3 459.6 L534.0 502.9 L551.7 577.0 L569.3 614.0 L587.0 614.0 L604.7 614.0 L622.4 614.0 L640.0 614.0 L657.7 614.0 L675.4 614.0 L693.0 614.0 L710.7 614.0 L728.4 614.0 L746.1 614.0 L763.7 614.0 L781.4 614.0 L799.1 558.4 L816.7 515.2 L834.4 447.3 L852.1 354.7 L869.8 238.6 L887.4 303.4 L905.1 291.7 L922.8 345.4 L940.4 391.7 L958.1 453.5 L975.8 552.2 L993.5 614.0 L1011.1 614.0 L1028.8 614.0 L1046.5 614.0 L1064.1 614.0 L1081.8 614.0 L1099.5 614.0 L1117.1 614.0 L1134.8 614.0 L1152.5 614.0 L1170.2 614.0 L1187.8 614.0 L1205.5 614.0 L1223.2 591.8 L1240.8 536.8 L1258.5 391.7 L1276.2 268.2 L1293.9 207.7 L1311.5 175.0 L1329.2 221.9 L1346.9 317.6 L1364.5 379.4 L1382.2 441.1 L1399.9 533.7 L1417.6 607.8 L1435.2 614.0 L1452.9 614.0 L1470.6 614.0 L1488.2 614.0 L1505.9 614.0 L1523.6 614.0 L1541.3 614.0 L1558.9 614.0 L1576.6 614.0 L1594.3 614.0 L1611.9 614.0 L1629.6 614.0"/>
</g>
<g stroke="#DA70D6" stroke-width="1.9">
<path d="M233.6 614.0 L251.3 614.0 L268.9 614.0 L286.6 614.0 L304.3 614.0 L322.0 614.0 L339.6 614.0 L357.3 604.1 L375.0 530.6 L392.6 463.9 L410.3 413.9 L428.0 373.2 L445.7 349.1 L463.3 349.1 L481.0 378.1 L498.7 411.5 L516.3 449.1 L534.0 489.9 L551.7 568.9 L569.3 614.0 L587.0 614.0 L604.7 614.0 L622.4 614.0 L640.0 614.0 L657.7 614.0 L675.4 614.0 L693.0 614.0 L710.7 614.0 L728.4 614.0 L746.1 614.0 L763.7 614.0 L781.4 610.9 L799.1 546.7 L816.7 507.8 L834.4 430.6 L852.1 397.3 L869.8 405.9 L887.4 382.7 L905.1 388.0 L922.8 423.2 L940.4 441.1 L958.1 477.5 L975.8 560.3 L993.5 613.4 L1011.1 614.0 L1028.8 614.0 L1046.5 614.0 L1064.1 614.0 L1081.8 614.0 L1099.5 614.0 L1117.1 614.0 L1134.8 614.0 L1152.5 614.0 L1170.2 614.0 L1187.8 614.0 L1205.5 606.6 L1223.2 549.8 L1240.8 491.7 L1258.5 386.8 L1276.2 221.9 L1293.9 211.4 L1311.5 267.6 L1329.2 294.8 L1346.9 338.6 L1364.5 405.9 L1382.2 446.7 L1399.9 536.8 L1417.6 610.0 L1435.2 614.0 L1452.9 614.0 L1470.6 614.0 L1488.2 614.0 L1505.9 614.0 L1523.6 614.0 L1541.3 614.0 L1558.9 614.0 L1576.6 614.0 L1594.3 614.0 L1611.9 614.0 L1629.6 606.6"/>
<rect x="229.2" y="609.6" width="8.8" height="8.8"/><rect x="246.9" y="609.6" width="8.8" height="8.8"/><rect x="264.5" y="609.6" width="8.8" height="8.8"/><rect x="282.2" y="609.6" width="8.8" height="8.8"/><rect x="299.9" y="609.6" width="8.8" height="8.8"/><rect x="317.6" y="609.6" width="8.8" height="8.8"/><rect x="335.2" y="609.6" width="8.8" height="8.8"/><rect x="352.9" y="599.7" width="8.8" height="8.8"/><rect x="370.6" y="526.2" width="8.8" height="8.8"/><rect x="388.2" y="459.5" width="8.8" height="8.8"/><rect x="405.9" y="409.5" width="8.8" height="8.8"/><rect x="423.6" y="368.8" width="8.8" height="8.8"/><rect x="441.3" y="344.7" width="8.8" height="8.8"/><rect x="458.9" y="344.7" width="8.8" height="8.8"/><rect x="476.6" y="373.7" width="8.8" height="8.8"/><rect x="494.3" y="407.1" width="8.8" height="8.8"/><rect x="511.9" y="444.7" width="8.8" height="8.8"/><rect x="529.6" y="485.5" width="8.8" height="8.8"/><rect x="547.3" y="564.5" width="8.8" height="8.8"/><rect x="564.9" y="609.6" width="8.8" height="8.8"/><rect x="582.6" y="609.6" width="8.8" height="8.8"/><rect x="600.3" y="609.6" width="8.8" height="8.8"/><rect x="618.0" y="609.6" width="8.8" height="8.8"/><rect x="635.6" y="609.6" width="8.8" height="8.8"/><rect x="653.3" y="609.6" width="8.8" height="8.8"/><rect x="671.0" y="609.6" width="8.8" height="8.8"/><rect x="688.6" y="609.6" width="8.8" height="8.8"/><rect x="706.3" y="609.6" width="8.8" height="8.8"/><rect x="724.0" y="609.6" width="8.8" height="8.8"/><rect x="741.7" y="609.6" width="8.8" height="8.8"/><rect x="759.3" y="609.6" width="8.8" height="8.8"/><rect x="777.0" y="606.5" width="8.8" height="8.8"/><rect x="794.7" y="542.3" width="8.8" height="8.8"/><rect x="812.3" y="503.4" width="8.8" height="8.8"/><rect x="830.0" y="426.2" width="8.8" height="8.8"/><rect x="847.7" y="392.9" width="8.8" height="8.8"/><rect x="865.4" y="401.5" width="8.8" height="8.8"/><rect x="883.0" y="378.3" width="8.8" height="8.8"/><rect x="900.7" y="383.6" width="8.8" height="8.8"/><rect x="918.4" y="418.8" width="8.8" height="8.8"/><rect x="936.0" y="436.7" width="8.8" height="8.8"/><rect x="953.7" y="473.1" width="8.8" height="8.8"/><rect x="971.4" y="555.9" width="8.8" height="8.8"/><rect x="989.1" y="609.0" width="8.8" height="8.8"/><rect x="1006.7" y="609.6" width="8.8" height="8.8"/><rect x="1024.4" y="609.6" width="8.8" height="8.8"/><rect x="1042.1" y="609.6" width="8.8" height="8.8"/><rect x="1059.7" y="609.6" width="8.8" height="8.8"/><rect x="1077.4" y="609.6" width="8.8" height="8.8"/><rect x="1095.1" y="609.6" width="8.8" height="8.8"/><rect x="1112.7" y="609.6" width="8.8" height="8.8"/><rect x="1130.4" y="609.6" width="8.8" height="8.8"/><rect x="1148.1" y="609.6" width="8.8" height="8.8"/><rect x="1165.8" y="609.6" width="8.8" height="8.8"/><rect x="1183.4" y="609.6" width="8.8" height="8.8"/><rect x="1201.1" y="602.2" width="8.8" height="8.8"/><rect x="1218.8" y="545.4" width="8.8" height="8.8"/><rect x="1236.4" y="487.3" width="8.8" height="8.8"/><rect x="1254.1" y="382.4" width="8.8" height="8.8"/><rect x="1271.8" y="217.5" width="8.8" height="8.8"/><rect x="1289.5" y="207.0" width="8.8" height="8.8"/><rect x="1307.1" y="263.2" width="8.8" height="8.8"/><rect x="1324.8" y="290.4" width="8.8" height="8.8"/><rect x="1342.5" y="334.2" width="8.8" height="8.8"/><rect x="1360.1" y="401.5" width="8.8" height="8.8"/><rect x="1377.8" y="442.3" width="8.8" height="8.8"/><rect x="1395.5" y="532.4" width="8.8" height="8.8"/><rect x="1413.2" y="605.6" width="8.8" height="8.8"/><rect x="1430.8" y="609.6" width="8.8" height="8.8"/><rect x="1448.5" y="609.6" width="8.8" height="8.8"/><rect x="1466.2" y="609.6" width="8.8" height="8.8"/><rect x="1483.8" y="609.6" width="8.8" height="8.8"/><rect x="1501.5" y="609.6" width="8.8" height="8.8"/><rect x="1519.2" y="609.6" width="8.8" height="8.8"/><rect x="1536.9" y="609.6" width="8.8" height="8.8"/><rect x="1554.5" y="609.6" width="8.8" height="8.8"/><rect x="1572.2" y="609.6" width="8.8" height="8.8"/><rect x="1589.9" y="609.6" width="8.8" height="8.8"/><rect x="1607.5" y="609.6" width="8.8" height="8.8"/><rect x="1625.2" y="602.2" width="8.8" height="8.8"/>
</g>
<g stroke="#6A5ACD" stroke-width="1.9">
<path d="M233.6 614.0 L251.3 614.0 L268.9 614.0 L286.6 614.0 L304.3 614.0 L322.0 614.0 L339.6 614.0 L357.3 601.6 L375.0 515.2 L392.6 453.5 L410.3 404.1 L428.0 367.0 L445.7 348.5 L463.3 357.7 L481.0 379.4 L498.7 404.1 L516.3 434.9 L534.0 472.0 L551.7 546.1 L569.3 604.7 L587.0 607.8 L604.7 612.1 L622.4 614.0 L640.0 614.0 L657.7 614.0 L675.4 614.0 L693.0 614.0 L710.7 614.0 L728.4 614.0 L746.1 614.0 L763.7 614.0 L781.4 610.9 L799.1 533.7 L816.7 484.3 L834.4 428.8 L852.1 382.4 L869.8 346.0 L887.4 344.8 L905.1 364.5 L922.8 397.9 L940.4 428.8 L958.1 472.0 L975.8 558.4 L993.5 610.9 L1011.1 614.0 L1028.8 614.0 L1046.5 614.0 L1064.1 614.0 L1081.8 614.0 L1099.5 614.0 L1117.1 614.0 L1134.8 614.0 L1152.5 614.0 L1170.2 614.0 L1187.8 614.0 L1205.5 610.9 L1223.2 539.9 L1240.8 472.0 L1258.5 379.4 L1276.2 355.3 L1293.9 341.7 L1311.5 339.8 L1329.2 351.6 L1346.9 361.8 L1364.5 391.7 L1382.2 441.1 L1399.9 527.5 L1417.6 601.6 L1435.2 608.4 L1452.9 611.5 L1470.6 614.0 L1488.2 614.0 L1505.9 614.0 L1523.6 614.0 L1541.3 614.0 L1558.9 614.0 L1576.6 614.0 L1594.3 614.0 L1611.9 614.0 L1629.6 614.0"/>
</g>
<g stroke="#CD853F" stroke-width="1.9">
<path d="M233.6 614.0 L251.3 614.0 L268.9 614.0 L286.6 614.0 L304.3 614.0 L322.0 614.0 L339.6 614.0 L357.3 601.6 L375.0 496.7 L392.6 434.9 L410.3 379.4 L428.0 344.2 L445.7 333.0 L463.3 354.7 L481.0 385.5 L498.7 407.1 L516.3 431.8 L534.0 459.6 L551.7 527.5 L569.3 577.6 L587.0 570.8 L604.7 598.6 L622.4 614.0 L640.0 614.0 L657.7 614.0 L675.4 614.0 L693.0 614.0 L710.7 614.0 L728.4 614.0 L746.1 614.0 L763.7 614.0 L781.4 607.8 L799.1 521.4 L816.7 472.0 L834.4 422.6 L852.1 391.7 L869.8 373.2 L887.4 380.6 L905.1 398.5 L922.8 401.6 L940.4 415.2 L958.1 436.8 L975.8 515.2 L993.5 588.1 L1011.1 604.7 L1028.8 614.0 L1046.5 614.0 L1064.1 614.0 L1081.8 614.0 L1099.5 614.0 L1117.1 614.0 L1134.8 614.0 L1152.5 614.0 L1170.2 614.0 L1187.8 614.0 L1205.5 607.8 L1223.2 527.5 L1240.8 453.5 L1258.5 367.0 L1276.2 348.5 L1293.9 336.7 L1311.5 328.1 L1329.2 332.4 L1346.9 344.8 L1364.5 379.4 L1382.2 416.4 L1399.9 472.0 L1417.6 548.5 L1435.2 586.8 L1452.9 604.7 L1470.6 614.0 L1488.2 614.0 L1505.9 614.0 L1523.6 614.0 L1541.3 614.0 L1558.9 614.0 L1576.6 614.0 L1594.3 614.0 L1611.9 614.0 L1629.6 614.0"/>
</g>
<g stroke="#CD853F" stroke-width="1.9">
<path d="M233.6 614.0 L251.3 614.0 L268.9 614.0 L286.6 614.0 L304.3 614.0 L322.0 614.0 L339.6 614.0 L357.3 599.8 L375.0 505.0 L392.6 444.2 L410.3 394.8 L428.0 359.0 L445.7 339.2 L463.3 357.7 L481.0 389.8 L498.7 412.7 L516.3 436.8 L534.0 460.9 L551.7 536.8 L569.3 601.6 L587.0 604.1 L604.7 610.9 L622.4 613.4 L640.0 614.0 L657.7 614.0 L675.4 614.0 L693.0 614.0 L710.7 614.0 L728.4 614.0 L746.1 614.0 L763.7 614.0 L781.4 607.8 L799.1 525.7 L816.7 482.5 L834.4 441.1 L852.1 400.0 L869.8 405.0 L887.4 396.6 L905.1 405.0 L922.8 413.9 L940.4 420.1 L958.1 449.7 L975.8 530.0 L993.5 601.0 L1011.1 603.5 L1028.8 611.5 L1046.5 614.0 L1064.1 614.0 L1081.8 614.0 L1099.5 614.0 L1117.1 614.0 L1134.8 614.0 L1152.5 614.0 L1170.2 614.0 L1187.8 614.0 L1205.5 606.6 L1223.2 529.4 L1240.8 460.9 L1258.5 336.7 L1276.2 246.0 L1293.9 250.9 L1311.5 276.8 L1329.2 315.7 L1346.9 349.7 L1364.5 405.9 L1382.2 430.6 L1399.9 485.6 L1417.6 580.0 L1435.2 594.9 L1452.9 609.1 L1470.6 613.4 L1488.2 614.0 L1505.9 614.0 L1523.6 614.0 L1541.3 614.0 L1558.9 614.0 L1576.6 614.0 L1594.3 614.0 L1611.9 614.0 L1629.6 606.6"/>
<circle cx="232.8" cy="613.5" r="6.05"/><circle cx="250.5" cy="613.5" r="6.05"/><circle cx="268.1" cy="613.5" r="6.05"/><circle cx="285.8" cy="613.5" r="6.05"/><circle cx="303.5" cy="613.5" r="6.05"/><circle cx="321.2" cy="613.5" r="6.05"/><circle cx="338.8" cy="613.5" r="6.05"/><circle cx="356.5" cy="599.3" r="6.05"/><circle cx="374.2" cy="504.5" r="6.05"/><circle cx="391.8" cy="443.7" r="6.05"/><circle cx="409.5" cy="394.3" r="6.05"/><circle cx="427.2" cy="358.5" r="6.05"/><circle cx="444.9" cy="338.7" r="6.05"/><circle cx="462.5" cy="357.2" r="6.05"/><circle cx="480.2" cy="389.3" r="6.05"/><circle cx="497.9" cy="412.2" r="6.05"/><circle cx="515.5" cy="436.3" r="6.05"/><circle cx="533.2" cy="460.4" r="6.05"/><circle cx="550.9" cy="536.3" r="6.05"/><circle cx="568.5" cy="601.1" r="6.05"/><circle cx="586.2" cy="603.6" r="6.05"/><circle cx="603.9" cy="610.4" r="6.05"/><circle cx="621.6" cy="612.9" r="6.05"/><circle cx="639.2" cy="613.5" r="6.05"/><circle cx="656.9" cy="613.5" r="6.05"/><circle cx="674.6" cy="613.5" r="6.05"/><circle cx="692.2" cy="613.5" r="6.05"/><circle cx="709.9" cy="613.5" r="6.05"/><circle cx="727.6" cy="613.5" r="6.05"/><circle cx="745.3" cy="613.5" r="6.05"/><circle cx="762.9" cy="613.5" r="6.05"/><circle cx="780.6" cy="607.3" r="6.05"/><circle cx="798.3" cy="525.2" r="6.05"/><circle cx="815.9" cy="482.0" r="6.05"/><circle cx="833.6" cy="440.6" r="6.05"/><circle cx="851.3" cy="399.5" r="6.05"/><circle cx="869.0" cy="404.5" r="6.05"/><circle cx="886.6" cy="396.1" r="6.05"/><circle cx="904.3" cy="404.5" r="6.05"/><circle cx="922.0" cy="413.4" r="6.05"/><circle cx="939.6" cy="419.6" r="6.05"/><circle cx="957.3" cy="449.2" r="6.05"/><circle cx="975.0" cy="529.5" r="6.05"/><circle cx="992.7" cy="600.5" r="6.05"/><circle cx="1010.3" cy="603.0" r="6.05"/><circle cx="1028.0" cy="611.0" r="6.05"/><circle cx="1045.7" cy="613.5" r="6.05"/><circle cx="1063.3" cy="613.5" r="6.05"/><circle cx="1081.0" cy="613.5" r="6.05"/><circle cx="1098.7" cy="613.5" r="6.05"/><circle cx="1116.3" cy="613.5" r="6.05"/><circle cx="1134.0" cy="613.5" r="6.05"/><circle cx="1151.7" cy="613.5" r="6.05"/><circle cx="1169.4" cy="613.5" r="6.05"/><circle cx="1187.0" cy="613.5" r="6.05"/><circle cx="1204.7" cy="606.1" r="6.05"/><circle cx="1222.4" cy="528.9" r="6.05"/><circle cx="1240.0" cy="460.4" r="6.05"/><circle cx="1257.7" cy="336.2" r="6.05"/><circle cx="1275.4" cy="245.5" r="6.05"/><circle cx="1293.1" cy="250.4" r="6.05"/><circle cx="1310.7" cy="276.3" r="6.05"/><circle cx="1328.4" cy="315.2" r="6.05"/><circle cx="1346.1" cy="349.2" r="6.05"/><circle cx="1363.7" cy="405.4" r="6.05"/><circle cx="1381.4" cy="430.1" r="6.05"/><circle cx="1399.1" cy="485.1" r="6.05"/><circle cx="1416.8" cy="579.5" r="6.05"/><circle cx="1434.4" cy="594.4" r="6.05"/><circle cx="1452.1" cy="608.6" r="6.05"/><circle cx="1469.8" cy="612.9" r="6.05"/><circle cx="1487.4" cy="613.5" r="6.05"/><circle cx="1505.1" cy="613.5" r="6.05"/><circle cx="1522.8" cy="613.5" r="6.05"/><circle cx="1540.5" cy="613.5" r="6.05"/><circle cx="1558.1" cy="613.5" r="6.05"/><circle cx="1575.8" cy="613.5" r="6.05"/><circle cx="1593.5" cy="613.5" r="6.05"/><circle cx="1611.1" cy="613.5" r="6.05"/><circle cx="1628.8" cy="606.1" r="6.05"/>
</g>
</g>
<g font-family="'Liberation Mono', monospace" font-size="29.5" fill="#484848">
<text x="234.8" y="486.5">7</text>
<text x="305.5" y="476.0">7</text>
<text x="376.2" y="429.7">10</text>
<text x="446.9" y="311.7">16</text>
<text x="517.5" y="373.2">12</text>
<text x="588.2" y="457.5">8</text>
<text x="658.9" y="492.0">6</text>
<text x="729.6" y="506.5">6</text>
<text x="800.3" y="474.1">8</text>
<text x="871.0" y="322.2">15</text>
<text x="941.6" y="366.1">13</text>
<text x="1012.3" y="491.4">6</text>
<text x="1083.0" y="506.5">6</text>
<text x="1153.7" y="508.1">6</text>
<text x="1224.4" y="457.5">8</text>
<text x="1295.1" y="251.2">19</text>
<text x="1365.7" y="314.2">15</text>
<text x="1436.4" y="459.0">8</text>
<text x="1507.1" y="469.2">8</text>
<text x="1577.8" y="495.1">6</text>
</g>
</svg>
<svg width="1800" height="110" viewBox="0 0 1800 110" style="position:absolute;left:0;top:0"><g fill="none">
<g stroke="#CD853F" stroke-width="2.0"><path d="M358.7 67.3h62.7"/><circle cx="388.8" cy="65.6" r="6.05"/></g>
<g stroke="#6A5ACD" stroke-width="2.0"><path d="M485.7 67.3h62.7"/></g>
<g stroke="#87CEFA" stroke-width="2.3"><path d="M614.4 67.3h62.7"/><path d="M638.8 67.3h13M645.3 60.8v13"/></g>
<g stroke="#4682B4" stroke-width="2.3"><path d="M741.7 67.3h62.7"/><path d="M766.1 67.3h13.0M772.6 60.8v13.0M768.3 63.0l8.6 8.6M768.3 71.6l8.6 -8.6"/></g>
<g stroke="#FFD700" stroke-width="2.0"><path d="M870.7 67.3h62.7"/><path d="M901.6 59.2L908.6 71.3L894.6 71.3Z"/></g>
<g stroke="#FF8C00" stroke-width="2.0"><path d="M1001.0 67.3h62.7"/></g>
<g stroke="#A4E41C" stroke-width="2.3"><path d="M1130.0 67.3h62.7"/><path d="M1160.9 58.9L1166.8 67.3L1160.9 75.7L1155.0 67.3Z"/></g>
<g stroke="#DA70D6" stroke-width="2.0"><path d="M1259.0 67.3h62.7"/><rect x="1285.5" y="62.9" width="8.8" height="8.8"/></g>
<g stroke="#14A8A2" stroke-width="2.3"><path d="M1387.7 67.3h62.7"/></g>
</g></svg>
<div class="lg" style="left:427.1px;top:56px">福田</div>
<div class="lg" style="left:554.8px;top:56px"><span class="sf">罗</span><span class="sf">湖</span></div>
<div class="lg" style="left:683.8px;top:56px">南山</div>
<div class="lg" style="left:810.5px;top:56px"><span class="sf">盐</span>田</div>
<div class="lg" style="left:940.5px;top:56px"><span class="sf">龙</span><span class="sf">岗</span></div>
<div class="lg" style="left:1069.5px;top:56px">宝安</div>
<div class="lg" style="left:1198.1px;top:56px">大<span class="sf">鹏</span></div>
<div class="lg" style="left:1327.1px;top:56px"><span class="sf">龙</span><span class="sf">华</span></div>
<div class="lg" style="left:1456.1px;top:56px">坪山</div>
<div class="yt" style="right:1577.7px;top:110.1px">80</div>
<div class="yt" style="right:1577.7px;top:357.1px">40</div>
<div class="yt" style="right:1577.7px;top:604.1px">0</div>
<div class="xt" style="right:1555.5px;top:623.3px">3-17 00</div>
<div class="xt" style="right:1484.8px;top:623.3px">04</div>
<div class="xt" style="right:1414.1px;top:623.3px">08</div>
<div class="xt" style="right:1343.4px;top:623.3px">12</div>
<div class="xt" style="right:1272.8px;top:623.3px">16</div>
<div class="xt" style="right:1202.1px;top:623.3px">20</div>
<div class="xt" style="right:1131.4px;top:623.3px">3-18 00</div>
<div class="xt" style="right:1060.7px;top:623.3px">04</div>
<div class="xt" style="right:990.0px;top:623.3px">08</div>
<div class="xt" style="right:919.3px;top:623.3px">12</div>
<div class="xt" style="right:848.7px;top:623.3px">16</div>
<div class="xt" style="right:778.0px;top:623.3px">20</div>
<div class="xt" style="right:707.3px;top:623.3px">3-19 00</div>
<div class="xt" style="right:636.6px;top:623.3px">04</div>
<div class="xt" style="right:565.9px;top:623.3px">08</div>
<div class="xt" style="right:495.2px;top:623.3px">12</div>
<div class="xt" style="right:424.6px;top:623.3px">16</div>
<div class="xt" style="right:353.9px;top:623.3px">20</div>
<div class="xt" style="right:283.2px;top:623.3px">3-20 00</div>
<div class="xt" style="right:212.5px;top:623.3px">04</div>
<div class="t" style="left:898.5px;top:722.5px;font-size:27.5px">Date</div>
<div class="t" id="yl" style="left:162.5px;top:367.5px;font-size:27.5px;transform:translate(-50%,-50%) rotate(-90deg)">O<sub>3</sub> concentrations [<i>μ</i>g m<sup>-3</sup>]</div>
<div class="t an" style="left:551.5px;top:205.8px">Daily maximum of O<sub>3</sub>-8h</div>
<div class="t an" style="left:623px;top:239.8px">3-17 : 44</div>
<div class="t an" style="left:623px;top:270.4px">3-18 : 43</div>
<div class="t an" style="left:623px;top:301.0px">3-19 : 52</div>
</body></html>
